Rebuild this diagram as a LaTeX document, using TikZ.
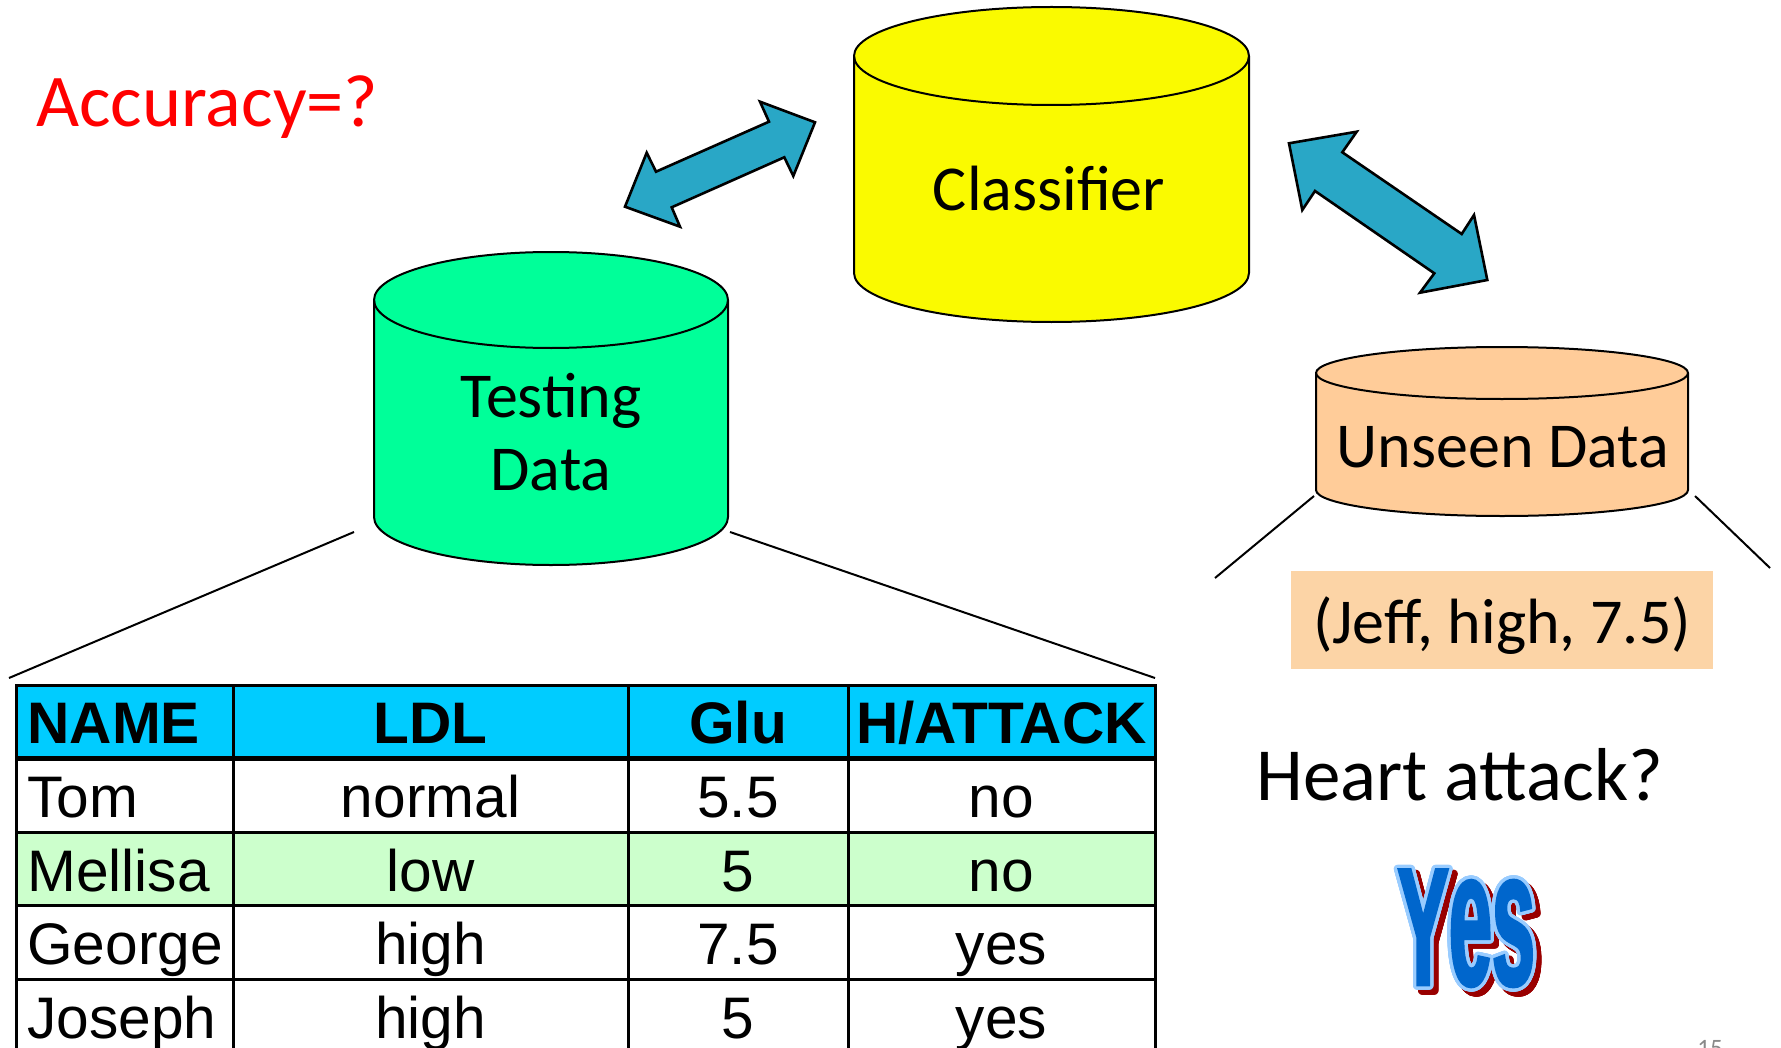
\documentclass[tikz,border=0pt]{standalone}
\usepackage{fontspec}
\setmainfont{Carlito}
\newfontfamily\tablefont{Liberation Sans}
\newfontfamily\yesfont{Liberation Sans Bold}[FakeStretch=0.46,FakeBold=1.5]
\usepackage{contour}
\contourlength{1.7pt}
\contournumber{32}

\definecolor{classyellow}{RGB}{250,250,0}
\definecolor{testgreen}{RGB}{0,255,153}
\definecolor{unseenpeach}{RGB}{255,204,153}
\definecolor{jeffpeach}{RGB}{252,212,166}
\definecolor{arrowblue}{RGB}{41,167,198}
\definecolor{headcyan}{RGB}{0,204,255}
\definecolor{rowgreen}{RGB}{204,255,204}
\definecolor{artfill}{RGB}{0,102,204}
\definecolor{artedge}{RGB}{153,204,255}
\definecolor{artshadow}{RGB}{153,0,0}
\definecolor{pagegray}{RGB}{137,137,137}

% drum shape: name, cx, top y, bottom y, x radius, y radius, fill
\newcommand\drum[7]{%
  \filldraw[drumline, fill=#7] (#2-#5,#3) -- (#2-#5,#4)
    arc[start angle=180, end angle=0, x radius=#5, y radius=#6]
    -- (#2+#5,#3)
    arc[start angle=0, end angle=-180, x radius=#5, y radius=#6] -- cycle;
  \draw[drumline] (#2-#5,#3) arc[start angle=180, end angle=0, x radius=#5, y radius=#6];
  \coordinate (#1) at (#2,#3);
}

% word-art text: offset shadow, light outline, blue face
\newcommand\wordart[1]{%
  \makebox[0pt][l]{\hspace{2.5pt}\raisebox{-2.5pt}{\textcolor{artshadow}{\contour{artshadow}{#1}}}}%
  \textcolor{artfill}{\contour{artedge}{#1}}}

\tikzset{
  drumline/.style={draw=black, line width=1pt},
  drumtext/.style={font=\fontsize{32}{36.5}\selectfont, inner sep=0pt, anchor=base, align=center},
  bigarrow/.style={fill=arrowblue, draw=black, line width=1.3pt, line join=miter},
  zoomline/.style={draw=black, line width=1pt},
  gridline/.style={draw=black, line width=1.5pt},
  headline/.style={draw=black, line width=2.5pt},
  tcell/.style={font=\tablefont\fontsize{29.3}{31}\selectfont, inner sep=0pt, anchor=base},
  thead/.style={tcell, font=\tablefont\bfseries\fontsize{29.3}{31}\selectfont},
}

\begin{document}
\begin{tikzpicture}[x=0.5pt, y=-0.5pt]
\useasboundingbox (0,0) rectangle (1781,1048);

% --- drums ---
\drum{classifier}{1051.5}{56}{273}{197.5}{49}{classyellow}
\drum{testing}{551}{300}{517}{177}{48}{testgreen}
\drum{unseen}{1502}{373}{490}{186}{26}{unseenpeach}

\node[drumtext] (classlbl) at (1049,211) {Classifier};
\node[drumtext] (testlbl) at (551,490) {Testing\\Data};
\node[drumtext] (unseenlbl) at (1503,467) {Unseen Data};

% --- double block arrows ---
\filldraw[bigarrow] (625,206.7) -- (680,226.7) -- (671.7,207.3) -- (784.3,157.3)
  -- (793.3,176) -- (815,122.3) -- (760,101.7) -- (769,121.7) -- (656,171.7)
  -- (646.7,152.7) -- cycle;
\filldraw[bigarrow] (1289,143.3) -- (1356.7,131.7) -- (1342.3,152.3) -- (1461.7,234)
  -- (1474,215) -- (1487.3,280) -- (1420,292.7) -- (1434.3,273.3) -- (1315,191)
  -- (1302.3,210) -- cycle;

% --- title texts ---
\node[anchor=base west, inner sep=0pt, text=red, font=\fontsize{37.2}{40}\selectfont] (acc) at (36,127) {Accuracy=?};
\node[anchor=base west, inner sep=0pt, font=\fontsize{37.5}{40}\selectfont] (heart) at (1256,800) {Heart attack?};

% --- unseen record ---
\coordinate (ul1) at (1314,496); \coordinate (ul2) at (1215,578);
\coordinate (ur1) at (1695,496); \coordinate (ur2) at (1770,568);
\draw[zoomline] (ul1) -- (ul2);
\draw[zoomline] (ur1) -- (ur2);
\node[fill=jeffpeach, minimum width=211pt, minimum height=49pt, text height=23pt, text depth=0pt,
      inner sep=0pt, font=\fontsize{32}{36}\selectfont] (jeff) at (1502,620) {(Jeff, high, 7.5)};

% --- testing table ---
\coordinate (tl1) at (354,532); \coordinate (tl2) at (9,678);
\coordinate (tr1) at (730,532); \coordinate (tr2) at (1155,678);
\draw[zoomline] (tl1) -- (tl2);
\draw[zoomline] (tr1) -- (tr2);

\fill[headcyan] (16,685) rectangle (1155,758.6);
\fill[rowgreen] (16,832.2) rectangle (1155,905.8);
\foreach \y in {685,832.2,905.8,979.4,1053} \draw[gridline] (16,\y) -- (1155,\y);
\draw[headline] (16,758.6) -- (1155,758.6);
\foreach \x in {16,233,628,848,1155} \draw[gridline] (\x,684) -- (\x,1060);

\node[thead, anchor=base west] (h1) at (27,743) {NAME};
\node[thead] (h2) at (430.5,743) {LDL};
\node[thead] (h3) at (738,743) {Glu};
\node[thead] (h4) at (1001.5,743) {H/ATTACK};

\node[tcell, anchor=base west] (r1a) at (27,817) {Tom};
\node[tcell] (r1b) at (430.5,817) {normal};
\node[tcell] (r1c) at (738,817) {5.5};
\node[tcell] (r1d) at (1001.5,817) {no};

\node[tcell, anchor=base west] (r2a) at (27,891) {Mellisa};
\node[tcell] (r2b) at (430.5,891) {low};
\node[tcell] (r2c) at (738,891) {5};
\node[tcell] (r2d) at (1001.5,891) {no};

\node[tcell, anchor=base west] (r3a) at (27,964) {George};
\node[tcell] (r3b) at (430.5,964) {high};
\node[tcell] (r3c) at (738,964) {7.5};
\node[tcell] (r3d) at (1001.5,964) {yes};

\node[tcell, anchor=base west] (r4a) at (27,1038) {Joseph};
\node[tcell] (r4b) at (430.5,1038) {high};
\node[tcell] (r4c) at (738,1038) {5};
\node[tcell] (r4d) at (1001.5,1038) {yes};

% --- answer ---
\node[anchor=base west, inner sep=0pt, font=\yesfont\fontsize{84}{90}\selectfont] (yes) at (1397,985)
  {\wordart{Y\scalebox{1}[1.16]{es}}};

% --- page number ---
\node[anchor=base west, inner sep=0pt, text=pagegray, font=\fontsize{12.5}{14}\selectfont] (pagenum) at (1697,1056) {15};
\end{tikzpicture}
\end{document}
